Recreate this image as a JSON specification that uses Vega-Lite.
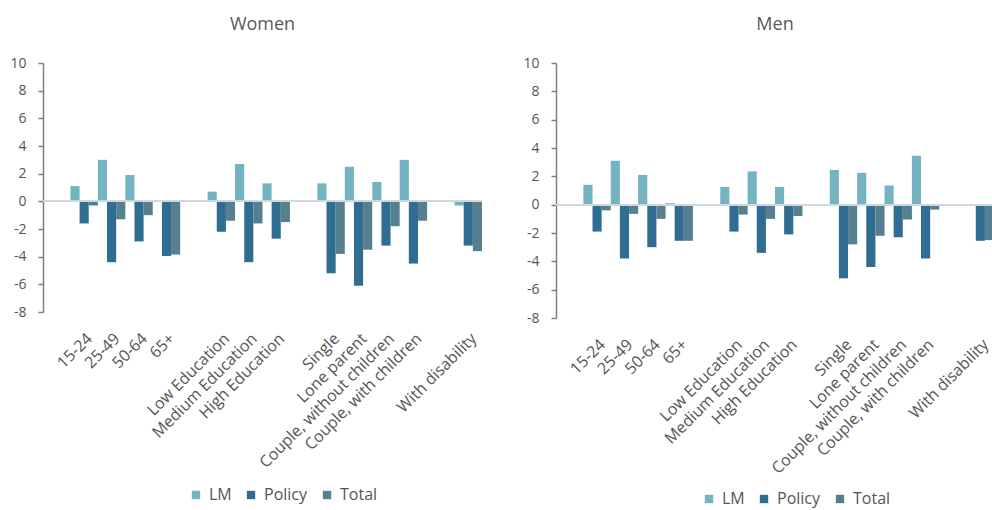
{
  "$schema": "https://vega.github.io/schema/vega-lite/v6.json",
  "background": "white",
  "padding": {"left": 9, "top": 16, "right": 0, "bottom": 8},
  "spacing": 39,
  "config": {
    "view": {"stroke": null},
    "font": "Open Sans",
    "axis": {"labelFont": "Open Sans", "labelColor": "#555555", "titleFontSize": 14},
    "axisY": {"values": [-8, -6, -4, -2, 0, 2, 4, 6, 8, 10], "labelFontSize": 14, "labelOverlap": false, "labelBound": false, "grid": false, "domainColor": "#7f7f7f", "domainWidth": 1.5, "tickColor": "#7f7f7f", "tickWidth": 1.5, "tickSize": 5, "labelPadding": 12},
    "axisX": {"labelAngle": -45, "labelFontSize": 16, "domain": false, "ticks": false, "labelPadding": 18, "labelOverlap": false, "labelLimit": 400},
    "title": {"font": "Open Sans", "fontSize": 18, "fontWeight": "normal", "color": "#595959"}
  },
  "resolve": {"legend": {"color": "independent"}},
  "datasets": {
    "women": [
      {"group": "15-24", "series": "LM", "value": 1.1},
      {"group": "15-24", "series": "Policy", "value": -1.6},
      {"group": "15-24", "series": "Total", "value": -0.3},
      {"group": "25-49", "series": "LM", "value": 3.0},
      {"group": "25-49", "series": "Policy", "value": -4.4},
      {"group": "25-49", "series": "Total", "value": -1.3},
      {"group": "50-64", "series": "LM", "value": 1.9},
      {"group": "50-64", "series": "Policy", "value": -2.9},
      {"group": "50-64", "series": "Total", "value": -1.0},
      {"group": "65+", "series": "LM", "value": 0.05},
      {"group": "65+", "series": "Policy", "value": -3.95},
      {"group": "65+", "series": "Total", "value": -3.85},
      {"group": "Low Education", "series": "LM", "value": 0.7},
      {"group": "Low Education", "series": "Policy", "value": -2.2},
      {"group": "Low Education", "series": "Total", "value": -1.4},
      {"group": "Medium Education", "series": "LM", "value": 2.7},
      {"group": "Medium Education", "series": "Policy", "value": -4.4},
      {"group": "Medium Education", "series": "Total", "value": -1.6},
      {"group": "High Education", "series": "LM", "value": 1.3},
      {"group": "High Education", "series": "Policy", "value": -2.7},
      {"group": "High Education", "series": "Total", "value": -1.5},
      {"group": "Single", "series": "LM", "value": 1.3},
      {"group": "Single", "series": "Policy", "value": -5.2},
      {"group": "Single", "series": "Total", "value": -3.8},
      {"group": "Lone parent", "series": "LM", "value": 2.5},
      {"group": "Lone parent", "series": "Policy", "value": -6.1},
      {"group": "Lone parent", "series": "Total", "value": -3.5},
      {"group": "Couple, without children", "series": "LM", "value": 1.4},
      {"group": "Couple, without children", "series": "Policy", "value": -3.2},
      {"group": "Couple, without children", "series": "Total", "value": -1.8},
      {"group": "Couple, with children", "series": "LM", "value": 3.0},
      {"group": "Couple, with children", "series": "Policy", "value": -4.5},
      {"group": "Couple, with children", "series": "Total", "value": -1.4},
      {"group": "With disability", "series": "LM", "value": -0.3},
      {"group": "With disability", "series": "Policy", "value": -3.2},
      {"group": "With disability", "series": "Total", "value": -3.6}
    ],
    "men": [
      {"group": "15-24", "series": "LM", "value": 1.4},
      {"group": "15-24", "series": "Policy", "value": -1.9},
      {"group": "15-24", "series": "Total", "value": -0.4},
      {"group": "25-49", "series": "LM", "value": 3.1},
      {"group": "25-49", "series": "Policy", "value": -3.8},
      {"group": "25-49", "series": "Total", "value": -0.65},
      {"group": "50-64", "series": "LM", "value": 2.1},
      {"group": "50-64", "series": "Policy", "value": -3.0},
      {"group": "50-64", "series": "Total", "value": -1.0},
      {"group": "65+", "series": "LM", "value": 0.1},
      {"group": "65+", "series": "Policy", "value": -2.55},
      {"group": "65+", "series": "Total", "value": -2.55},
      {"group": "Low Education", "series": "LM", "value": 1.25},
      {"group": "Low Education", "series": "Policy", "value": -1.9},
      {"group": "Low Education", "series": "Total", "value": -0.7},
      {"group": "Medium Education", "series": "LM", "value": 2.35},
      {"group": "Medium Education", "series": "Policy", "value": -3.4},
      {"group": "Medium Education", "series": "Total", "value": -1.0},
      {"group": "High Education", "series": "LM", "value": 1.25},
      {"group": "High Education", "series": "Policy", "value": -2.1},
      {"group": "High Education", "series": "Total", "value": -0.8},
      {"group": "Single", "series": "LM", "value": 2.45},
      {"group": "Single", "series": "Policy", "value": -5.2},
      {"group": "Single", "series": "Total", "value": -2.8},
      {"group": "Lone parent", "series": "LM", "value": 2.25},
      {"group": "Lone parent", "series": "Policy", "value": -4.4},
      {"group": "Lone parent", "series": "Total", "value": -2.2},
      {"group": "Couple, without children", "series": "LM", "value": 1.35},
      {"group": "Couple, without children", "series": "Policy", "value": -2.3},
      {"group": "Couple, without children", "series": "Total", "value": -1.05},
      {"group": "Couple, with children", "series": "LM", "value": 3.45},
      {"group": "Couple, with children", "series": "Policy", "value": -3.8},
      {"group": "Couple, with children", "series": "Total", "value": -0.35},
      {"group": "With disability", "series": "LM", "value": 0.05},
      {"group": "With disability", "series": "Policy", "value": -2.55},
      {"group": "With disability", "series": "Total", "value": -2.5}
    ]
  },
  "hconcat": [
    {
      "title": {"text": "Women", "offset": 22},
      "width": 439,
      "height": 249,
      "data": {"name": "women"},
      "layer": [
        {
          "mark": {"type": "bar"},
          "encoding": {
            "x": {
              "field": "group", "type": "nominal", "sort": null, "title": null,
              "scale": {"domain": ["_0", "15-24", "25-49", "50-64", "65+", "_1", "Low Education", "Medium Education", "High Education", "_2", "Single", "Lone parent", "Couple, without children", "Couple, with children", "_3", "With disability"], "paddingInner": 0, "paddingOuter": 0},
              "axis": {"labelExpr": "indexof(datum.label, '_') == 0 ? '' : datum.label"}
            },
            "xOffset": {"field": "series", "type": "nominal", "scale": {"domain": ["LM", "Policy", "Total"], "paddingInner": 0, "paddingOuter": 0}},
            "y": {
              "field": "value", "type": "quantitative", "title": null,
              "scale": {"domain": [-8, 10], "nice": false},
              "axis": {"values": [-8, -6, -4, -2, 0, 2, 4, 6, 8, 10], "labelOverlap": false, "labelExpr": "replace(datum.label, '−', '-')"}
            },
            "color": {
              "field": "series", "type": "nominal",
              "scale": {"domain": ["LM", "Policy", "Total"], "range": ["#74b3c0", "#2f6d93", "#56808f"]},
              "legend": {"orient": "none", "legendX": 145, "legendY": 424, "direction": "horizontal", "title": null, "symbolType": "square", "symbolSize": 70, "labelFontSize": 16, "labelColor": "#555555", "columnPadding": 11, "labelOffset": 5}
            }
          }
        },
        {
          "mark": {"type": "rule", "color": "#cfd8de", "strokeWidth": 1.5},
          "encoding": {"y": {"datum": 0, "type": "quantitative", "title": null, "axis": {"values": [-8, -6, -4, -2, 0, 2, 4, 6, 8, 10], "labelOverlap": false, "labelExpr": "replace(datum.label, '−', '-')"}}}
        }
      ]
    },
    {
      "title": {"text": "Men", "offset": 22},
      "width": 438,
      "height": 255,
      "data": {"name": "men"},
      "layer": [
        {
          "mark": {"type": "bar"},
          "encoding": {
            "x": {
              "field": "group", "type": "nominal", "sort": null, "title": null,
              "scale": {"domain": ["_0", "15-24", "25-49", "50-64", "65+", "_1", "Low Education", "Medium Education", "High Education", "_2", "Single", "Lone parent", "Couple, without children", "Couple, with children", "_3", "With disability"], "paddingInner": 0, "paddingOuter": 0},
              "axis": {"labelExpr": "indexof(datum.label, '_') == 0 ? '' : datum.label"}
            },
            "xOffset": {"field": "series", "type": "nominal", "scale": {"domain": ["LM", "Policy", "Total"], "paddingInner": 0, "paddingOuter": 0}},
            "y": {
              "field": "value", "type": "quantitative", "title": null,
              "scale": {"domain": [-8, 10], "nice": false},
              "axis": {"values": [-8, -6, -4, -2, 0, 2, 4, 6, 8, 10], "labelOverlap": false, "labelExpr": "replace(datum.label, '−', '-')"}
            },
            "color": {
              "field": "series", "type": "nominal",
              "scale": {"domain": ["LM", "Policy", "Total"], "range": ["#74b3c0", "#2f6d93", "#56808f"]},
              "legend": {"orient": "none", "legendX": 145, "legendY": 428, "direction": "horizontal", "title": null, "symbolType": "square", "symbolSize": 70, "labelFontSize": 16, "labelColor": "#555555", "columnPadding": 11, "labelOffset": 5}
            }
          }
        },
        {
          "mark": {"type": "rule", "color": "#cfd8de", "strokeWidth": 1.5},
          "encoding": {"y": {"datum": 0, "type": "quantitative", "title": null, "axis": {"values": [-8, -6, -4, -2, 0, 2, 4, 6, 8, 10], "labelOverlap": false, "labelExpr": "replace(datum.label, '−', '-')"}}}
        }
      ]
    }
  ]
}
